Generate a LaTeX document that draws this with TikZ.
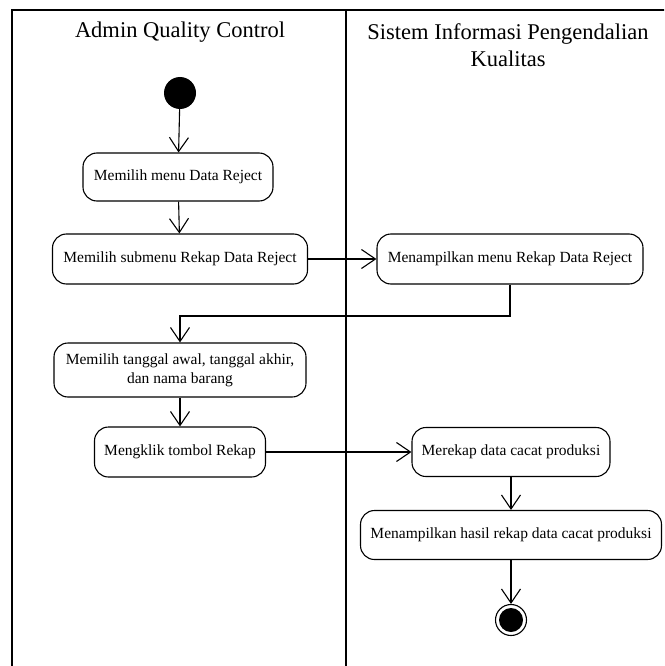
\documentclass[tikz,border=0pt]{standalone}
\usepackage{fontspec}
\setmainfont{Liberation Serif}
\usetikzlibrary{arrows.meta}
\begin{document}
\begin{tikzpicture}[x=1pt,y=-1pt,
  lane/.style={line width=1.3pt},
  act/.style={draw,line width=1.1pt,rounded corners=14pt,align=center,
    inner sep=0pt,font=\fontsize{15.5}{19}\selectfont},
  flow/.style={line width=1.1pt,-{Straight Barb[length=14pt,width=19pt,line width=1.1pt]}},
  title/.style={align=center,font=\fontsize{22.5}{27}\selectfont}]
\useasboundingbox (0,0) rectangle (664,666);
\fill[white] (0,0) rectangle (664,666);
% swimlane frame
\begin{scope}
\clip (0,0) rectangle (664,666);
\draw[lane] (12,680) -- (12,10) -- (680,10);
\draw[lane] (346,10) -- (346,680);
\end{scope}
\node[title] (laneA) at (180,32) {Admin Quality Control};
\node[title] (laneB) at (508,45) {Sistem Informasi Pengendalian\\Kualitas};
% activities
\node[circle,fill=black,minimum size=32pt,inner sep=0pt] (start) at (180,93) {};
\node[act,minimum width=190pt,minimum height=48pt] (n1) at (178,177) {Memilih menu Data Reject};
\node[act,minimum width=255pt,minimum height=50pt] (n2) at (180,259) {Memilih submenu Rekap Data Reject};
\node[act,minimum width=266pt,minimum height=50pt] (n3) at (510,259) {Menampilkan menu Rekap Data Reject};
\node[act,minimum width=252pt,minimum height=54pt] (n4) at (180,370) {Memilih tanggal awal, tanggal akhir,\\dan nama barang};
\node[act,minimum width=171pt,minimum height=50pt] (n5) at (180,452) {Mengklik tombol Rekap};
\node[act,minimum width=198pt,minimum height=49pt] (n6) at (511,452) {Merekap data cacat produksi};
\node[act,minimum width=301pt,minimum height=49pt] (n7) at (511,535) {Menampilkan hasil rekap data cacat produksi};
\node[circle,draw,line width=1.1pt,minimum size=31pt,inner sep=0pt] (stop) at (511,620) {};
\node[circle,fill=black,minimum size=24pt,inner sep=0pt] (stopdot) at (stop.center) {};
\coordinate (elbow) at (180,316);
% transitions
\draw[flow] (start) -- (n1);
\draw[flow] (n1) -- (n2);
\draw[flow] (n2) -- (n3);
\draw[flow] (n3.south) |- (elbow) -- (n4.north);
\draw[flow] (n4) -- (n5);
\draw[flow] (n5) -- (n6);
\draw[flow] (n6) -- (n7);
\draw[flow] (n7) -- (stop);
\end{tikzpicture}
\end{document}
